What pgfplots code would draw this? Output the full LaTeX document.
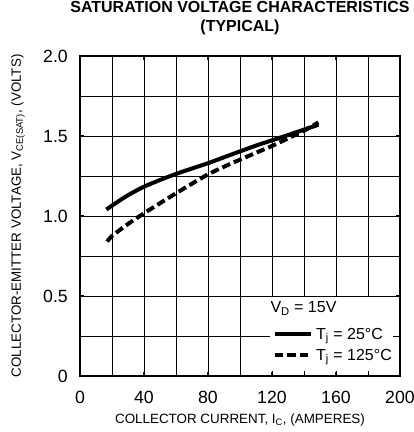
\documentclass[border=0pt]{standalone}
\usepackage{fontspec}
\setmainfont{Liberation Sans}
\usepackage{pgfplots}
\pgfplotsset{compat=1.18}
\begin{document}
\begin{tikzpicture}[x=1pt,y=1pt]
\path[use as bounding box] (0,0) rectangle (414,432);
\begin{axis}[
 at={(80pt,56pt)}, anchor=south west,
 scale only axis, width=320pt, height=320pt,
 xmin=0, xmax=200, ymin=0, ymax=2,
 xtick={0,40,...,200}, ytick={0,0.5,1,1.5,2},
 yticklabels={0,0.5,1.0,1.5,2.0},
 minor x tick num=1, minor y tick num=1,
 grid=both,
 major grid style={line width=0.85pt, black},
 minor grid style={line width=0.85pt, black},
 tick align=inside, major tick length=4pt, minor tick length=0pt,
 tick style={line width=2pt, black},
 axis line style={line width=2pt},
 /pgf/number format/assume math mode=true,
 ticklabel style={font=\fontsize{17.7}{20}\selectfont},
 xticklabel style={anchor=center, inner sep=0pt, yshift=-21pt},
 yticklabel style={anchor=east, inner sep=0pt, xshift=-12pt},
 xlabel={COLLECTOR CURRENT, I\textsubscript{C}, (AMPERES)},
 ylabel={COLLECTOR-EMITTER VOLTAGE, V\textsubscript{CE(SAT)}, (VOLTS)},
 xlabel style={at={(axis description cs:0.5,-0.1375)}, anchor=center, inner sep=0pt, font=\fontsize{13.4}{16}\selectfont},
 ylabel style={at={(axis description cs:-0.19375,0.5)}, anchor=center, inner sep=0pt, font=\fontsize{13.4}{16}\selectfont},
 title={SATURATION VOLTAGE CHARACTERISTICS\\(TYPICAL)},
 title style={at={(axis description cs:0.5,1)}, anchor=south, inner sep=0pt, yshift=15pt, align=center, font=\bfseries\fontsize{16}{19}\selectfont},
 legend style={at={(rel axis cs:0.601,0.0406)}, anchor=south west, draw=none, fill=none,
   font=\fontsize{16}{19}\selectfont, inner sep=0pt, row sep=6.4pt, column sep=2.3pt,
   nodes={inner sep=1pt}},
 legend cell align=left,
 legend image code/.code={\draw[#1] (0pt,0.5pt) -- (36.4pt,0.5pt);},
]
\addplot[black, line width=4pt, smooth] coordinates {
 (16.5,1.04) (20,1.065) (30,1.13) (40,1.183) (50,1.225) (60,1.263) (70,1.297)
 (80,1.33) (90,1.367) (100,1.404) (110,1.44) (120,1.473) (130,1.506) (140,1.54) (149,1.57)};
\addlegendentry{T\textsubscript{j} = 25°C}
\addplot[black, line width=4pt, dash pattern=on 8.5pt off 4pt, smooth] coordinates {
 (17,0.84) (20,0.875) (30,0.95) (40,1.017) (50,1.08) (60,1.142) (70,1.202)
 (80,1.26) (90,1.308) (100,1.352) (110,1.395) (120,1.438) (130,1.485) (140,1.533) (149,1.585)};
\addlegendentry{T\textsubscript{j} = 125°C}
\fill[white] (rel axis cs:0.59375,0.015625) rectangle (rel axis cs:0.978,0.247);
\node[anchor=base west, font=\fontsize{16}{19}\selectfont, inner sep=0pt] at (rel axis cs:0.5947,0.197) {V\textsubscript{D} = 15V};
\end{axis}
\end{tikzpicture}
\end{document}
